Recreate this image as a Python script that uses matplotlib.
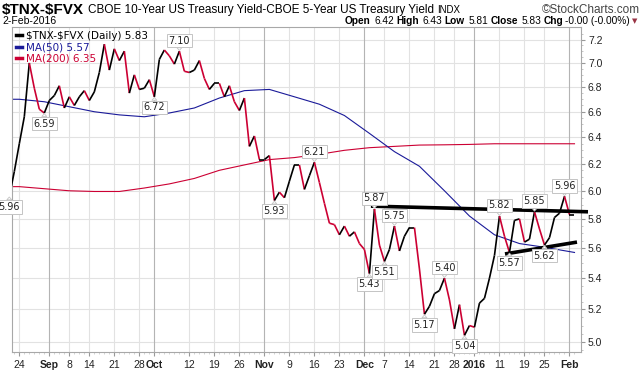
import numpy as np
import pandas as pd
import matplotlib
matplotlib.use('Agg')
import matplotlib.pyplot as plt
from matplotlib.collections import LineCollection
from matplotlib.lines import Line2D
from matplotlib.ticker import FixedLocator, NullFormatter, FormatStrFormatter

# trading days shown (Aug 20 2015 .. Feb 2 2016), US market holidays removed
holidays = ['2015-09-07', '2015-11-26', '2015-12-25', '2016-01-01', '2016-01-18']
dates = pd.bdate_range('2015-08-20', '2016-02-02')
dates = dates[~dates.isin(pd.to_datetime(holidays))]

# $TNX-$FVX daily close
spread = [5.96, 6.14, 6.35, 6.56, 7.00, 6.79, 6.62, 6.59, 6.69, 6.73,
          6.81, 6.63, 6.72, 6.65, 6.72, 6.77, 6.69, 6.76, 6.92, 7.16,
          6.94, 7.12, 7.02, 7.10, 6.75, 6.90, 6.78, 6.79, 6.86, 6.72,
          7.03, 7.11, 7.06, 6.99, 7.10, 6.93, 6.92, 6.94, 7.02, 6.87,
          6.78, 6.83, 6.83, 6.72, 6.81, 6.68, 6.61, 6.71, 6.33, 6.41,
          6.23, 6.23, 6.26, 5.93, 5.99, 5.95, 6.07, 6.19, 6.19, 6.01,
          6.11, 6.21, 6.06, 5.91, 5.77, 5.76, 5.69, 5.75, 5.68, 5.71,
          5.63, 5.59, 5.43, 5.87, 5.62, 5.51, 5.59, 5.75, 5.58, 5.68,
          5.74, 5.74, 5.46, 5.17, 5.22, 5.30, 5.32, 5.40, 5.26, 5.08,
          5.23, 5.04, 5.10, 5.09, 5.24, 5.27, 5.40, 5.55, 5.82, 5.68,
          5.57, 5.79, 5.80, 5.64, 5.66, 5.85, 5.73, 5.62, 5.67, 5.81,
          5.84, 5.96, 5.83, 5.83]

# moving averages at weekly points
ma_dates = ['2015-08-20', '2015-08-24', '2015-08-31', '2015-09-08', '2015-09-15',
            '2015-09-22', '2015-09-29', '2015-10-06', '2015-10-13', '2015-10-20',
            '2015-10-27', '2015-11-03', '2015-11-10', '2015-11-17', '2015-11-24',
            '2015-12-02', '2015-12-09', '2015-12-16', '2015-12-23', '2015-12-31',
            '2016-01-08', '2016-01-15', '2016-01-25', '2016-02-02']
ma50 = [6.70, 6.70, 6.68, 6.64, 6.60, 6.575, 6.56, 6.59, 6.63, 6.71,
        6.77, 6.78, 6.72, 6.66, 6.57, 6.43, 6.29, 6.18, 6.00, 5.82,
        5.69, 5.63, 5.605, 5.57]
ma200 = [6.03, 6.03, 6.015, 6.00, 5.995, 5.995, 6.02, 6.05, 6.09, 6.15,
         6.19, 6.23, 6.245, 6.27, 6.30, 6.32, 6.33, 6.34, 6.342, 6.345,
         6.35, 6.35, 6.35, 6.35]

# labelled highs / lows
label_dates = ['2015-08-20', '2015-08-31', '2015-10-01', '2015-10-08', '2015-11-04',
               '2015-11-16', '2015-12-02', '2015-12-03', '2015-12-07', '2015-12-09',
               '2015-12-17', '2015-12-23', '2015-12-30', '2016-01-11', '2016-01-13',
               '2016-01-21', '2016-01-25', '2016-01-29']
label_side = ['low', 'low', 'low', 'high', 'low', 'high', 'low', 'high', 'low', 'high',
              'low', 'high', 'low', 'high', 'low', 'high', 'low', 'high']

# hand-drawn trend lines (trading days after Aug 24, value)
trend_upper = ([70.3, 113.7], [5.89, 5.85])
trend_lower = ([97.1, 111.5], [5.56, 5.64])

tick_dates = ['2015-08-24', '2015-09-01', '2015-09-08', '2015-09-14', '2015-09-21',
              '2015-09-28', '2015-10-01', '2015-10-12', '2015-10-19', '2015-10-26',
              '2015-11-02', '2015-11-09', '2015-11-16', '2015-11-23', '2015-12-01',
              '2015-12-07', '2015-12-14', '2015-12-21', '2015-12-28', '2016-01-04',
              '2016-01-11', '2016-01-19', '2016-01-25', '2016-02-01']
tick_labels = ['24', 'Sep', '8', '14', '21', '28', 'Oct', '12', '19', '26', 'Nov', '9',
               '16', '23', 'Dec', '7', '14', '21', '28', '2016', '11', '19', '25', 'Feb']
month_labels = ['Sep', 'Oct', 'Nov', 'Dec', '2016', 'Feb']

RED = '#cc0033'
BLUE = '#1a1a99'

origin = dates.get_loc(pd.Timestamp('2015-08-24'))
x = np.arange(len(dates)) - origin
y = np.array(spread)

def pos(ds):
    return dates.get_indexer(pd.to_datetime(ds)) - origin

fig = plt.figure(figsize=(6.44, 3.80), dpi=100)
W, H = 644, 380
ax = fig.add_axes([12 / W, 28 / H, (581 - 12) / W, (352 - 27) / H])

ax.set_yscale('log')
ax.set_xlim(-1.46, 112.3)
ax.set_ylim(4.94, 7.31)

# grid
yt = np.round(np.arange(5.0, 7.21, 0.2), 1)
ax.yaxis.set_major_locator(FixedLocator(yt))
ax.yaxis.set_major_formatter(FormatStrFormatter('%.1f'))
ax.yaxis.set_minor_locator(FixedLocator(np.arange(4.95, 7.3, 0.05)))
ax.yaxis.set_minor_formatter(NullFormatter())
for v in yt:
    ax.axhline(v, color='#e2e2e2', lw=0.8, zorder=0)
tx = pos(tick_dates)
for t, lab in zip(tx, tick_labels):
    c = '#b4b4b4' if lab in month_labels else '#e2e2e2'
    ax.axvline(t, color=c, lw=0.8, zorder=0)

# moving averages
ax.plot(pos(ma_dates), ma200, color=RED, lw=0.8, zorder=2)
ax.plot(pos(ma_dates), ma50, color=BLUE, lw=0.8, zorder=2)

# price line, red on down days
pts = np.column_stack([x, y])
segs = np.stack([pts[:-1], pts[1:]], axis=1)
cols = [RED if y[k + 1] < y[k] else 'black' for k in range(len(y) - 1)]
ax.add_collection(LineCollection(segs, colors=cols, linewidths=1.2, zorder=3))

# trend lines
for tl in (trend_upper, trend_lower):
    ax.plot(tl[0], tl[1], color='black', lw=2.6, solid_capstyle='butt',
            zorder=4, clip_on=False)

# high / low labels
for d, side in zip(label_dates, label_side):
    i = dates.get_loc(pd.Timestamp(d))
    off = 7.6 if side == 'high' else -7.6
    ax.annotate(f'{spread[i]:.2f}', xy=(i - origin, spread[i]), xytext=(0, off),
                textcoords='offset points', ha='center', va='center',
                fontsize=7, color='#222222', family='DejaVu Sans',
                bbox=dict(boxstyle='square,pad=0.18', fc='white', ec='#c4c4c4', lw=0.7),
                arrowprops=dict(arrowstyle='wedge,tail_width=0.5', fc='white',
                                ec='#c4c4c4', lw=0.6, shrinkA=0, shrinkB=0.5),
                annotation_clip=False, zorder=6)

# axes styling
ax.yaxis.tick_right()
ax.tick_params(axis='y', which='major', length=3, color='#999999', labelsize=7.5,
               labelcolor='#222222', pad=2)
ax.tick_params(axis='y', which='minor', length=1.5, color='#bbbbbb')
ax.set_xticks(tx, tick_labels)
ax.set_xticks(x[x >= -1], minor=True)
ax.tick_params(axis='x', which='major', length=3, color='#999999', labelsize=7.5,
               labelcolor='#222222', pad=3)
ax.tick_params(axis='x', which='minor', length=1.5, color='#cccccc')
for lbl in ax.get_xticklabels() + ax.get_yticklabels():
    lbl.set_family('Liberation Sans')
for lbl in ax.get_xticklabels():
    if lbl.get_text() in month_labels:
        lbl.set_fontweight('bold')
for s in ax.spines.values():
    s.set_color('#a8a8a8')
    s.set_linewidth(0.8)

# legend
handles = [Line2D([], [], color='black', lw=2.5),
           Line2D([], [], color=BLUE, lw=2.5),
           Line2D([], [], color=RED, lw=2.5)]
texts = ['\\$TNX-\\$FVX (Daily) 5.83', 'MA(50) 5.57', 'MA(200) 6.35']
ax.legend(handles, texts, loc='upper left', frameon=False, fontsize=7.5,
          handlelength=0.6, handletextpad=0.35, labelspacing=0.15,
          borderaxespad=0.15, borderpad=0.2, labelcolor='linecolor')

# header
fig.canvas.draw()
r = fig.canvas.get_renderer()

def chain(x0, yy, parts, right=False):
    xx = x0
    seq = parts[::-1] if right else parts
    for txt, kw, gap in seq:
        t = fig.text(xx / W, 1 - yy / H, txt, va='center',
                     ha='right' if right else 'left', parse_math=False,
                     family='Liberation Sans', **kw)
        bb = t.get_window_extent(renderer=r)
        xx = (bb.x0 - gap) if right else (bb.x1 + gap)

chain(2, 10, [('$TNX-$FVX', dict(fontsize=11, fontweight='bold'), 4),
              ('CBOE 10-Year US Treasury Yield-CBOE 5-Year US Treasury Yield',
               dict(fontsize=8.5), 3),
              ('INDX', dict(fontsize=7), 0)])
fig.text(640 / W, 1 - 10 / H, '\u00a9StockCharts.com', ha='right', va='center',
         fontsize=8.5, color='#444444', family='Liberation Sans')
fig.text(2 / W, 1 - 21 / H, '2-Feb-2016', ha='left', va='center', fontsize=7.5,
         family='Liberation Sans')
b = dict(fontsize=7.3, fontweight='bold')
n = dict(fontsize=7.3)
chain(630, 21, [('Open', b, 2), ('6.42', n, 4), ('High', b, 2), ('6.43', n, 4),
                ('Low', b, 2), ('5.81', n, 4), ('Close', b, 2), ('5.83', n, 4),
                ('Chg', b, 2), ('-0.00 (-0.00%)', n, 2)], right=True)
fig.text(637 / W, 1 - 21 / H, '\u25bc', ha='right', va='center', fontsize=5,
         color='#993344', family='DejaVu Sans')

fig.savefig('out.png', dpi=100)
